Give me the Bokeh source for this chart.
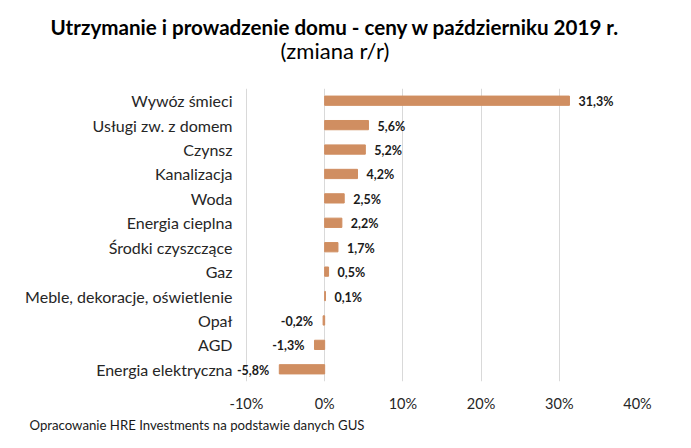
from bokeh.plotting import figure
from bokeh.models import ColumnDataSource, Range1d, FixedTicker, LabelSet, Title, LinearAxis
from bokeh.core.properties import value
from bokeh.embed import file_html
from bokeh.resources import INLINE

categories = ["Wywóz śmieci", "Usługi zw. z domem", "Czynsz", "Kanalizacja", "Woda",
              "Energia cieplna", "Środki czyszczące", "Gaz",
              "Meble, dekoracje, oświetlenie", "Opał", "AGD", "Energia elektryczna"]
values = [31.3, 5.6, 5.2, 4.2, 2.5, 2.2, 1.7, 0.5, 0.1, -0.2, -1.3, -5.8]
x_ticks = [-10, 0, 10, 20, 30, 40]
x_tick_labels = ["-10%", "0%", "10%", "20%", "30%", "40%"]
title = "Utrzymanie i prowadzenie domu - ceny w październiku 2019 r."
subtitle = "(zmiana r/r)"
footnote = "Opracowanie HRE Investments na podstawie danych GUS"

BAR = "#D08E61"
FONT = "Lato"
W, H = 675, 432
X0 = -11.4
L, R, T, B = 235, 38, 88, 49
n = len(categories)
ys = [n - 1 - i for i in range(n)]
labels = [f"{v:.1f}%".replace(".", ",") for v in values]

p = figure(width=W, height=H, output_backend="svg", toolbar_location=None, title=None,
           x_range=Range1d(X0, 40), y_range=Range1d(-0.5, n - 0.5),
           min_border_left=L, min_border_right=R, min_border_top=T, min_border_bottom=B)
p.outline_line_color = None
p.background_fill_color = "white"
p.border_fill_color = "white"

src = ColumnDataSource(dict(y=ys, v=values, cat=categories, lab=labels))
p.hbar(y="y", left=0, right="v", height=0.38, color=BAR, source=src)

pos = [i for i, v in enumerate(values) if v >= 0]
neg = [i for i, v in enumerate(values) if v < 0]
src_pos = ColumnDataSource(dict(x=[values[i] for i in pos], y=[ys[i] for i in pos], t=[labels[i] for i in pos]))
src_neg = ColumnDataSource(dict(x=[values[i] for i in neg], y=[ys[i] for i in neg], t=[labels[i] for i in neg]))
common = dict(text_baseline="middle", text_font=value(FONT), text_font_style="bold",
              text_font_size="12.5px", text_color="#1a1a1a", y_offset=-1)
p.add_layout(LabelSet(x="x", y="y", text="t", source=src_pos, x_offset=9, text_align="left", **common))
p.add_layout(LabelSet(x="x", y="y", text="t", source=src_neg, x_offset=-10, text_align="right", **common))

# axes
p.xaxis.ticker = FixedTicker(ticks=x_ticks)
p.xaxis.major_label_overrides = {t: s for t, s in zip(x_ticks, x_tick_labels)}
p.yaxis.ticker = FixedTicker(ticks=ys)
p.yaxis.major_label_overrides = {y: c for y, c in zip(ys, categories)}
for ax in (p.xaxis[0], p.yaxis[0]):
    ax.axis_line_color = None
    ax.major_tick_line_color = None
    ax.minor_tick_line_color = None
    ax.major_tick_out = 0
    ax.major_tick_in = 0
    ax.major_label_text_font = FONT
    ax.major_label_text_color = "#262626"
p.xaxis.major_label_text_font_size = "14.5px"
p.yaxis.major_label_text_font_size = "16px"
p.xaxis.major_label_standoff = 13
p.yaxis.major_label_standoff = 3
p.ygrid.grid_line_color = None
p.xgrid.grid_line_color = "#d9d9d9"
p.xgrid.grid_line_width = 1

# axis above the frame with one invisible (white) tick, used only as a spacer below the subtitle
spacer = LinearAxis(ticker=FixedTicker(ticks=[X0 + 0.3]), axis_line_color=None,
                    major_tick_line_color="#ffffff", minor_tick_line_color=None,
                    major_tick_out=25, major_tick_in=0, minor_tick_out=0, minor_tick_in=0,
                    major_label_standoff=0, major_label_text_alpha=0, axis_label=None)
p.add_layout(spacer, "above")
p.add_layout(Title(text=subtitle, align="left", standoff=0, offset=45,
                   text_font=FONT, text_font_style="normal", text_font_size="22px",
                   text_color="#000000"), "above")
p.add_layout(Title(text=title, align="left", standoff=-8, offset=-185,
                   text_font=FONT, text_font_style="bold", text_font_size="20.6px",
                   text_color="#000000"), "above")
p.add_layout(Title(text=footnote, align="left", standoff=0, offset=-206,
                   text_font=FONT, text_font_style="normal", text_font_size="13.2px",
                   text_color="#1a1a1a"), "below")

open("out.html", "w").write(file_html(p, INLINE))
